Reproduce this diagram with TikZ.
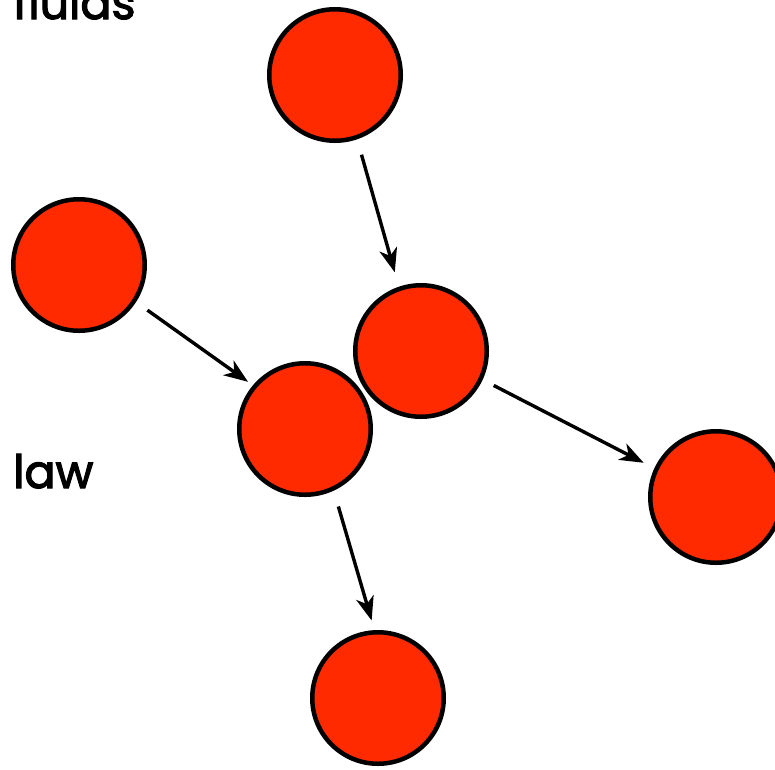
\documentclass[tikz,border=0pt]{standalone}
\usepackage{fontspec}
\setmainfont{Poppins}
\newcommand{\heavytext}[1]{\special{pdf:literal direct 2 Tr 1.2 w}#1\special{pdf:literal direct 0 Tr}}
\usetikzlibrary{arrows.meta}
\definecolor{ballred}{HTML}{FF2A00}
\begin{document}
\begin{tikzpicture}[x=1pt,y=-1pt,
  ball/.style={circle,draw=black,line width=4.5pt,fill=ballred,minimum size=131.5pt,inner sep=0pt},
  link/.style={line width=3.4pt,-{Stealth[length=24pt,width=18pt,inset=7pt]}},
  lbl/.style={anchor=base west,inner sep=0pt,font=\fontsize{46}{50}\selectfont}]
\useasboundingbox (0,0) rectangle (775,769);
\node[ball] (a) at (335,75) {};
\node[ball] (b) at (79,265) {};
\node[ball] (c) at (421,351) {};
\node[ball] (d) at (305,429) {};
\node[ball] (e) at (716,497) {};
\node[ball] (f) at (378,698) {};
\node[lbl] (t1) at (13,19) {\heavytext{fluids}};
\node[lbl] (t2) at (13,488) {\heavytext{law}};
\draw[link,shorten <=16pt,shorten >=15pt] (a.-71.4) -- (c.109.5);
\draw[link,shorten <=14pt,shorten >=6pt] (b.-33.7) -- (d.140.1);
\draw[link,shorten <=12.5pt,shorten >=12pt] (c.-25.6) -- (e.155);
\draw[link,shorten <=16.5pt,shorten >=10pt] (d.-65) -- (f.93.7);
\end{tikzpicture}
\end{document}
